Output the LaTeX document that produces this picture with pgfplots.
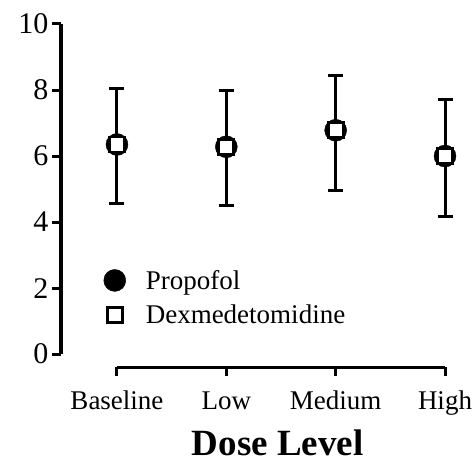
\documentclass[border=0pt]{standalone}
\usepackage{fontspec}
\setmainfont{Liberation Serif}
\usepackage{pgfplots}
\pgfplotsset{compat=1.18}
\pgfplotstableread{
x y ep em
0 6.35 1.70 1.78
1 6.28 1.70 1.78
2 6.78 1.67 1.81
3 6.00 1.72 1.83
}\propofol
\pgfplotstableread{
x y ep em
0 6.35 1.70 1.78
1 6.28 1.70 1.78
2 6.78 1.67 1.81
3 6.00 1.72 1.83
}\dexmed
\begin{document}
\begin{tikzpicture}
\begin{axis}[
  scale only axis, width=384bp, height=343bp,
  xmin=-0.512, xmax=3, ymin=-0.39, ymax=10,
  axis x line*=bottom, axis y line*=left,
  axis line style={draw=none},
  xtick={0,1,2,3}, xticklabels={Baseline,Low,Medium,High},
  ytick={0,2,4,6,8,10},
  tick align=outside, major tick length=9bp,
  tick style={line width=3bp, black},
  yticklabel style={font=\fontsize{30bp}{33bp}\selectfont},
  /pgf/number format/assume math mode=true,
  xticklabel style={anchor=base, yshift=-33bp, font=\fontsize{27bp}{30bp}\selectfont},
  xlabel={\bfseries Dose Level},
  every axis x label/.style={at={(axis cs:1.47,-0.39)}, anchor=base, yshift=-88bp, font=\fontsize{37bp}{40bp}\selectfont},
  clip=false,
  legend style={draw=none, fill=none, at={(axis cs:-0.15,2.67)}, anchor=north west,
    font=\fontsize{27bp}{30bp}\selectfont, row sep=10bp,
    nodes={inner xsep=20bp}},
  legend image code/.code={\draw[mark repeat=2,mark phase=2] plot coordinates {(0bp,0bp)(11bp,0bp)(22bp,0bp)};},
  legend cell align=left,
]
\addplot[only marks, black, mark=*, mark size=11bp, mark options={fill=black},
  error bars/.cd, y dir=both, y explicit,
  error bar style={line width=3bp, black},
  error mark options={rotate=90, mark size=7.5bp, line width=3bp, black}]
  table[x=x, y=y, y error plus=ep, y error minus=em] {\propofol};
\addlegendentry{Propofol}
\addplot[only marks, black, mark=square*, mark size=7.5bp, mark options={fill=white, line width=2.8bp},
  error bars/.cd, y dir=both, y explicit,
  error bar style={line width=3bp, black},
  error mark options={rotate=90, mark size=7.5bp, line width=3bp, black}]
  table[x=x, y=y, y error plus=ep, y error minus=em] {\dexmed};
\addlegendentry{Dexmedetomidine}
\draw[line width=3bp] (axis cs:-0.512,0) -- (axis cs:-0.512,10);
\draw[line width=3bp] (axis cs:0,-0.39) -- (axis cs:3,-0.39);
\end{axis}
\pgfresetboundingbox
\path (current axis.south west) ++(-61bp,-95bp) rectangle ++(474bp,462bp);
\end{tikzpicture}
\end{document}
